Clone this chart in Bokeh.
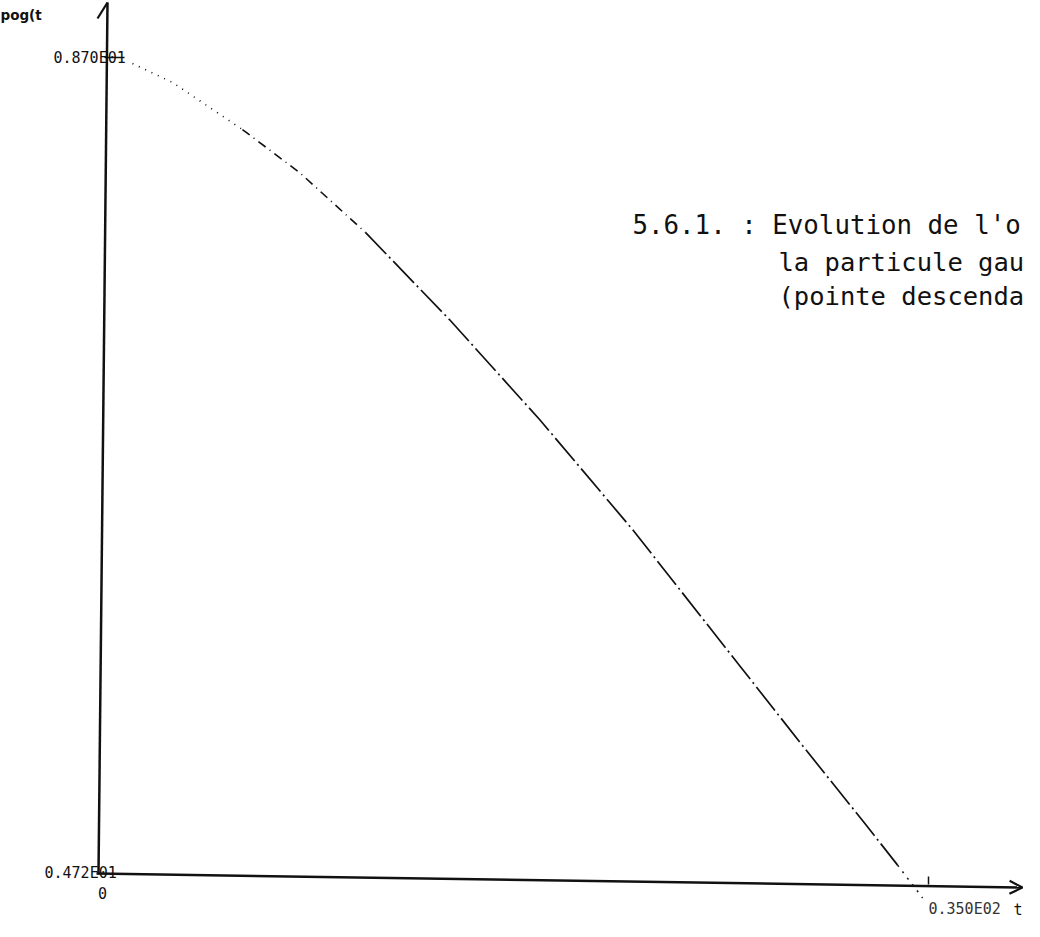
from bokeh.plotting import figure
from bokeh.models import Arrow, OpenHead, Range1d
from bokeh.core.properties import value
from bokeh.embed import file_html
from bokeh.resources import INLINE

# ---- data ----
t_vals = [1.27, 2.97, 5.93, 8.35, 11.14, 14.70, 18.52, 22.46, 26.99, 29.66, 32.33, 33.69, 34.75]
pog_vals = [8.671, 8.579, 8.351, 8.143, 7.853, 7.431, 6.947, 6.414, 5.756, 5.368, 4.987, 4.789, 4.630]
y_ticks = [4.72, 8.70]
y_tick_labels = ["0.472E01", "0.870E01"]
x_ticks = [0, 35]
x_tick_labels = ["0", "0.350E02"]
x_label = "t"
y_label = "pog(t"
title_lines = ["5.6.1. : Evolution de l'o", "la particule gau", "(pointe descenda"]

# ---- layout (pixel geometry) ----
W, H = 1024, 921
PX_T = 23.6      # pixels per unit of t
PX_V = 206.5     # pixels per unit of pog
X0 = 102         # canvas x of t = 0
YTOP = 57        # canvas y of pog = 8.70
x_start = -X0 / PX_T
x_end = x_start + W / PX_T
y_end = y_ticks[1] + YTOP / PX_V
y_start = y_end - H / PX_V


def cx(page_x):
    return x_start + (page_x - 8) / PX_T


def cy(page_y):
    return y_end - (page_y - 8) / PX_V


p = figure(width=W, height=H, x_range=Range1d(x_start, x_end), y_range=Range1d(y_start, y_end),
           output_backend="svg", toolbar_location=None, x_axis_location=None, y_axis_location=None,
           min_border=0, min_border_left=0, min_border_right=0, min_border_top=0, min_border_bottom=0)
p.grid.visible = False
p.outline_line_color = None
p.background_fill_color = "white"
p.border_fill_color = "white"

INK = "#111111"

# axes (drawn with the slight skew of the scanned original)
p.segment(x0=[cx(106)], y0=[cy(882)], x1=[cx(115)], y1=[cy(10)], line_color=INK, line_width=2.5)
p.segment(x0=[cx(115)], y0=[cy(10)], x1=[cx(105)], y1=[cy(26)], line_color=INK, line_width=2.2)
p.add_layout(Arrow(end=OpenHead(size=13, line_width=2.2, line_color=INK),
                   x_start=cx(104), y_start=cy(881), x_end=cx(1030), y_end=cy(895),
                   line_color=INK, line_width=2.5))

# ticks
p.segment(x0=[cx(112)], y0=[y_ticks[1]], x1=[cx(132)], y1=[y_ticks[1]], line_color=INK, line_width=1.5)
p.segment(x0=[x_ticks[1]], y0=[cy(892)], x1=[x_ticks[1]], y1=[cy(884)], line_color=INK, line_width=1.5)

# curve (plotter trace: dotted start, dash-dot body, dotted tail)
p.line(t_vals[0:3], pog_vals[0:3], line_color=INK, line_width=1.6, line_dash="1 6")
p.line(t_vals[2:5], pog_vals[2:5], line_color=INK, line_width=1.6, line_dash="9 5 1 5")
p.line(t_vals[4:12], pog_vals[4:12], line_color=INK, line_width=1.7, line_dash="30 4 2 4")
p.line(t_vals[11:13], pog_vals[11:13], line_color=INK, line_width=1.5, line_dash="2 6")

lab_font = value("DejaVu Sans Mono")

# y tick labels
p.text(x=[cx(61)], y=[y_ticks[1]], text=[y_tick_labels[1]], text_font=lab_font, text_font_size="15px",
       text_align="left", text_baseline="alphabetic", text_color=INK)
p.text(x=[cx(52)], y=[y_ticks[0]], text=[y_tick_labels[0]], text_font=lab_font, text_font_size="15px",
       text_align="left", text_baseline="alphabetic", text_color=INK, y_offset=-6)

# x tick labels
p.text(x=[x_ticks[0]], y=[y_ticks[0]], text=[x_tick_labels[0]], text_font=lab_font, text_font_size="15px",
       text_align="center", text_baseline="middle", text_color=INK, y_offset=14)
p.text(x=[x_ticks[1]], y=[y_ticks[0]], text=[x_tick_labels[1]], text_font=lab_font, text_font_size="15px",
       text_align="left", text_baseline="middle", text_color="#333333", y_offset=30)

# axis names
p.text(x=[cx(1021)], y=[y_ticks[0]], text=[x_label], text_font=lab_font, text_font_size="15px",
       text_align="left", text_baseline="middle", text_color=INK, y_offset=31)
p.text(x=[cx(8)], y=[cy(22)], text=[y_label], text_font=value("DejaVu Sans"), text_font_size="13.5px",
       text_font_style="bold", text_align="left", text_baseline="middle", text_color=INK)

# caption
title_font = value("DejaVu Sans Mono")
p.text(x=[cx(640)], y=[cy(232)], text=[title_lines[0]], text_font=title_font, text_font_size="25.8px",
       text_align="left", text_baseline="alphabetic", text_color=INK)
p.text(x=[cx(786)], y=[cy(269)], text=[title_lines[1]], text_font=title_font, text_font_size="25.5px",
       text_align="left", text_baseline="alphabetic", text_color=INK)
p.text(x=[cx(786)], y=[cy(303)], text=[title_lines[2]], text_font=title_font, text_font_size="25.5px",
       text_align="left", text_baseline="alphabetic", text_color=INK)

open("out.html", "w").write(file_html(p, INLINE))
